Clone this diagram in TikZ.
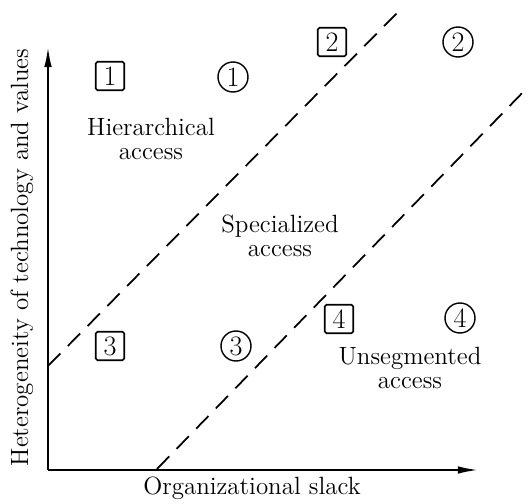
\documentclass[tikz,border=0pt]{standalone}
\usepackage{tikz}
\usetikzlibrary{arrows.meta}

\begin{document}
\begin{tikzpicture}[font=\fontsize{14.2pt}{13.8pt}\selectfont,
	numbox/.style={draw, rounded corners=1pt, minimum size=0.57cm, inner sep=0pt, line width=0.9pt, font=\fontsize{16pt}{16pt}\selectfont},
	numcirc/.style={draw, circle, minimum size=0.6cm, inner sep=0pt, line width=0.8pt, font=\fontsize{16pt}{16pt}\selectfont},
	region/.style={align=center},
	border/.style={dash pattern=on 10pt off 6pt, line width=1pt},
	axis/.style={line width=1.1pt, -{Latex[length=4mm, width=1.5mm]}}]
	\useasboundingbox (-0.96,-0.66) rectangle (9.62,9.4);
	% axes
	\coordinate (O) at (0,0);
	\coordinate (ytop) at (0,8.46);
	\coordinate (xend) at (8.6,0);
	\draw[axis] (O) -- (ytop);
	\draw[axis] (O) -- (xend);
	\node (xlab) at (4.08,-0.36) {Organizational slack};
	\node[rotate=90] (ylab) at (-0.52,4.25) {Heterogeneity of technology and values};
	% dashed borders
	\coordinate (upA) at (0,2.08);
	\coordinate (upB) at (7.08,9.24);
	\coordinate (lowA) at (2.18,0.02);
	\coordinate (lowB) at (9.62,7.68);
	\draw[border] (upA) -- (upB);
	\draw[border] (lowA) -- (lowB);
	% regions
	\node[region] (hier) at (2.06,6.62) {Hierarchical\\access};
	\node[region] (spec) at (4.64,4.68) {Specialized\\access};
	\node[region] (unseg) at (7.24,2.04) {Unsegmented\\access};
	% numbered markers
	\node[numbox] (b1) at (1.24,7.88) {1};
	\node[numcirc] (c1) at (3.7,7.86) {1};
	\node[numbox] (b2) at (5.68,8.56) {2};
	\node[numcirc] (c2) at (8.2,8.56) {2};
	\node[numbox] (b3) at (1.24,2.48) {3};
	\node[numcirc] (c3) at (3.76,2.48) {3};
	\node[numbox] (b4) at (5.82,3.02) {4};
	\node[numcirc] (c4) at (8.24,3.04) {4};
\end{tikzpicture}
\end{document}
